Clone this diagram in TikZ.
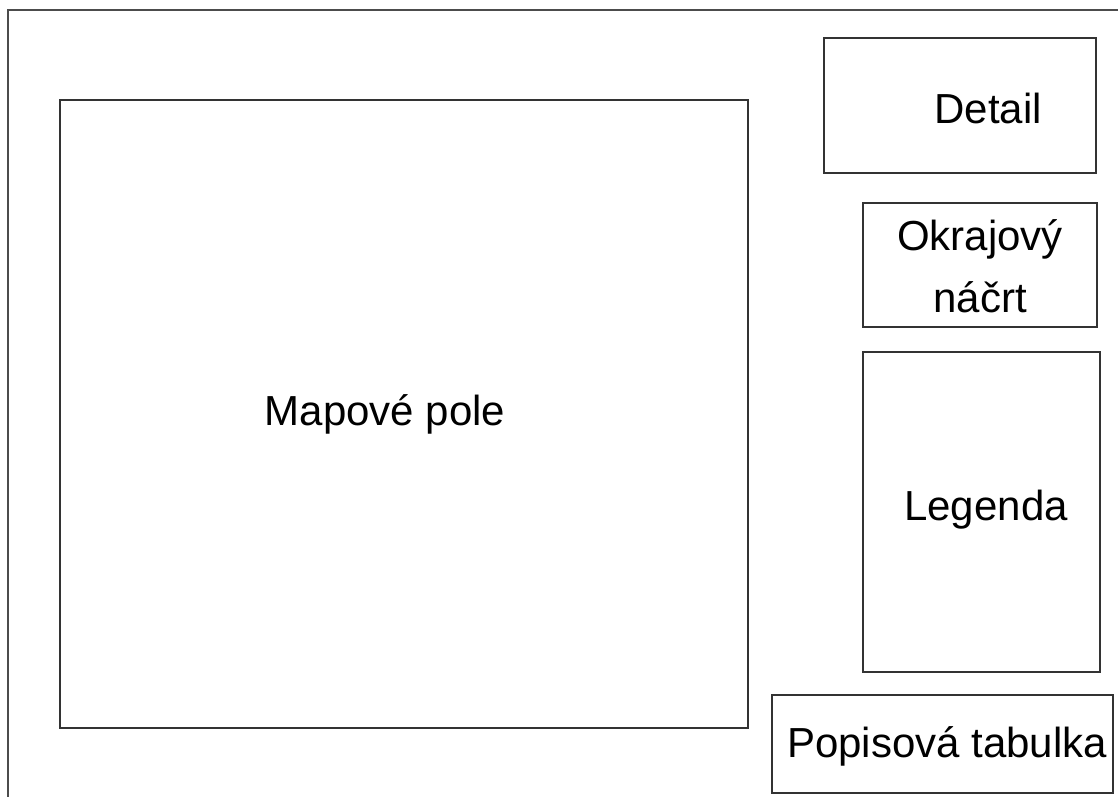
\documentclass[tikz,border=0pt]{standalone}
\usepackage{fontspec}
\setmainfont{Liberation Sans}
\usepackage{tikz}
\usetikzlibrary{positioning}
\tikzset{
  field/.style={draw=black!80, line width=1.1pt, inner sep=0pt},
  caption/.style={inner sep=0pt, align=center, font=\fontsize{42}{62}\selectfont}
}

\begin{document}
\begin{tikzpicture}[x=1pt,y=-1pt]
    \useasboundingbox (0,0) rectangle (1118,797);
    % outer sheet edge
    \coordinate (sheetTop) at (1118,10);
    \coordinate (sheetCorner) at (8,10);
    \coordinate (sheetBottom) at (8,797);
    \draw[black!70, line width=1.3pt] (sheetTop) -- (sheetCorner) -- (sheetBottom);
    % fields
    \node[field, minimum width=688pt, minimum height=628pt] (pole) at (404,414) {};
    \node[field, minimum width=272pt, minimum height=135pt] (detail) at (960,105.5) {};
    \node[field, minimum width=234pt, minimum height=124pt] (nacrt) at (980,265) {};
    \node[field, minimum width=237pt, minimum height=320pt] (legenda) at (981.5,512) {};
    \node[field, minimum width=341pt, minimum height=98pt] (tabulka) at (942.5,744) {};
    % texts
    \node[caption] (poleText) at (385,414) {Mapové pole};
    \node[caption] (detailText) at (988,108) {Detail};
    \node[caption] (nacrtText) at (980,266) {Okrajový\\náčrt};
    \node[caption] (legendaText) at (986,510) {Legenda};
    \node[caption] (tabulkaText) at (947,746) {Popisová tabulka};
\end{tikzpicture}
\end{document}
